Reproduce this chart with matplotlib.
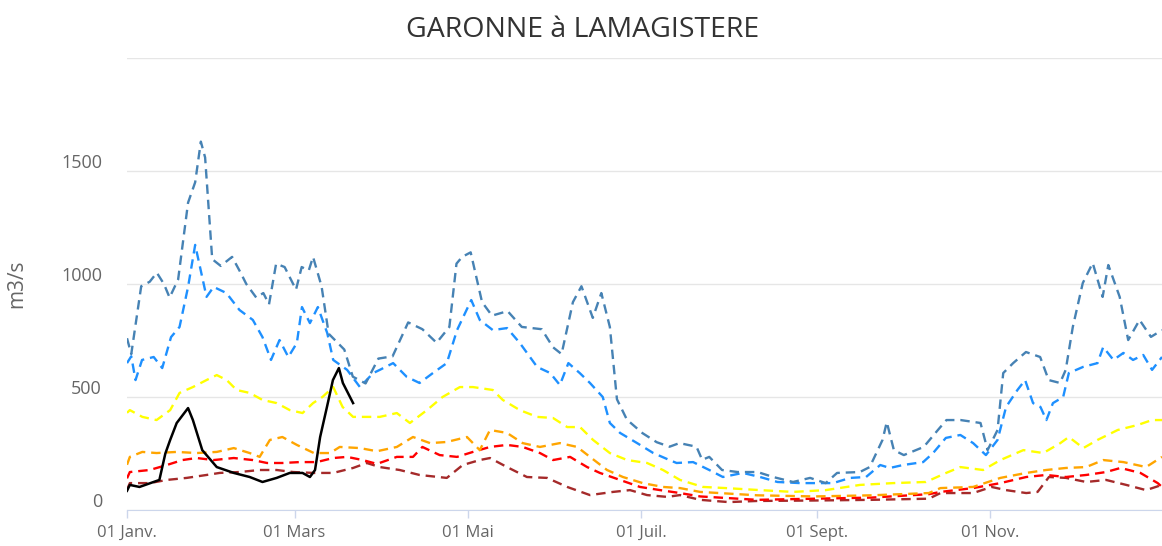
import matplotlib
matplotlib.use("Agg")
import matplotlib.pyplot as plt
from matplotlib.transforms import ScaledTranslation

# jours depuis le 01 janvier, debits en m3/s
steel_days = [0, 1.5, 5, 8, 10.5, 13, 15, 18, 21.5, 24, 26, 27.5, 30, 33, 37, 40, 42, 45.5, 48, 50,
              52.5, 55.5, 59.5, 61.5, 64, 65.5, 68.5, 71, 76.5, 79.5, 84, 88.5, 93.5, 99, 104, 109,
              113.5, 116, 118, 121, 125, 128.5, 134, 139, 146, 150, 153, 157, 160, 164, 167, 170,
              172.5, 176, 181.5, 186.5, 191, 194.5, 200.5, 202.5, 205, 209.5, 215, 222, 227.5, 234.5,
              240.5, 246, 250, 258, 261.5, 266, 267.5, 270, 273.5, 280.5, 285.5, 288.5, 293.5, 300.5,
              303, 306.5, 308.5, 312, 316.5, 321.5, 324.5, 328.5, 330.5, 333, 336.5, 340, 343.5,
              345.5, 349.5, 352.5, 356.5, 360.5, 364.4]
steel_vals = [760, 690, 990, 1010, 1050, 1000, 940, 1020, 1360, 1450, 1630, 1560, 1110, 1080, 1120,
              1050, 1000, 940, 960, 910, 1090, 1075, 975, 1075, 1060, 1120, 990, 780, 710, 590, 560,
              670, 680, 830, 800, 740, 810, 1090, 1120, 1140, 920, 860, 880, 810, 800, 720, 690, 920,
              990, 850, 960, 810, 490, 400, 340, 300, 280, 296, 280, 222, 235, 177, 168, 168, 146,
              124, 142, 119, 164, 168, 190, 310, 389, 265, 243, 279, 354, 398, 398, 385, 265, 354,
              606, 650, 699, 677, 575, 562, 620, 810, 1004, 1093, 943, 1084, 943, 752, 841, 766, 796]

dodger_days = [0, 1.5, 3, 5.3, 9.4, 12.4, 15.5, 18.5, 21.5, 24, 28, 30.5, 35, 39.6, 44.3, 47.7, 50.7,
               53.7, 56.8, 59.8, 61.6, 64.4, 67.2, 70.5, 72.6, 77.5, 82, 86.7, 89, 93.7, 98.5, 103,
               107.7, 112.6, 116.2, 121.2, 124.2, 128.8, 133.8, 138.3, 144.4, 149, 152.4, 155.4,
               159.4, 163, 167.5, 170, 173.6, 179.6, 185.3, 191, 193.5, 199.3, 205, 209.8, 216.8,
               222.9, 229, 237, 244, 248.6, 254.6, 260.2, 265.2, 268.6, 273.2, 280.3, 283.8, 288.3,
               293.4, 297.9, 302.4, 306.5, 309.5, 313.5, 316.2, 319, 321.6, 323.7, 326, 329.6, 331.6,
               336.6, 341.7, 343.7, 347.3, 350.8, 354.2, 357.8, 360.9, 364.4]
dodger_vals = [650, 680, 575, 664, 677, 628, 765, 810, 987, 1173, 943, 987, 960, 885, 841, 765, 664,
               752, 677, 739, 898, 827, 898, 783, 664, 620, 544, 606, 620, 650, 589, 562, 606, 650,
               796, 929, 841, 796, 805, 739, 633, 606, 553, 650, 606, 562, 500, 385, 341, 296, 252,
               221, 208, 212, 177, 146, 164, 146, 124, 119, 119, 119, 142, 146, 199, 186, 199, 212,
               252, 319, 332, 296, 243, 310, 456, 531, 575, 473, 456, 398, 473, 500, 606, 633, 650,
               721, 664, 695, 664, 686, 620, 677]

yellow_days = [0, 1, 5.4, 10.4, 15.2, 18.5, 23.2, 28, 31.6, 35.1, 38.6, 43.2, 47.7, 52.7, 57.3, 61.8,
               65.5, 68.8, 72.6, 75.9, 79.6, 86.7, 89, 95, 99.6, 105.6, 111.1, 117.2, 121.8, 128.8,
               132.3, 138.3, 144.4, 150, 155, 159.5, 164.1, 170, 176.1, 183.1, 188.7, 194.7, 202.8,
               210.8, 222.9, 234.5, 246, 258.1, 269.7, 281.3, 288.4, 293.4, 301.4, 307.5, 315.6,
               322.6, 328.6, 331.6, 336.7, 341.7, 348.8, 355.8, 360.9, 364.4]
yellow_vals = [430, 442, 412, 398, 442, 518, 544, 575, 597, 575, 531, 518, 487, 473, 442, 429, 473,
               500, 544, 456, 412, 412, 412, 429, 385, 442, 500, 544, 544, 531, 487, 442, 412, 407,
               367, 367, 310, 252, 221, 208, 177, 133, 102, 97, 88, 80, 88, 111, 119, 124, 164, 190,
               177, 221, 265, 252, 296, 323, 274, 310, 354, 376, 398, 398]

orange_days = [0, 1, 5.4, 10.4, 17.5, 24.5, 31.6, 37.6, 43.2, 46.7, 50.3, 54.7, 59.8, 65.8, 71.5,
               74.9, 82, 88, 95, 100.7, 106.7, 112.6, 119.7, 124.2, 127.8, 133.8, 139.3, 145.4,
               152.4, 158.5, 163, 169, 174.6, 181.6, 188.7, 194.7, 201.8, 221.9, 242, 262.2, 282.3,
               286.4, 297.9, 307.5, 316.6, 323.6, 330.6, 337.7, 343.7, 350.8, 358.8, 364.4]
orange_vals = [200, 235, 257, 252, 257, 252, 257, 274, 252, 235, 310, 323, 288, 252, 252, 279, 274,
               260, 279, 323, 296, 301, 323, 265, 354, 341, 296, 279, 296, 279, 235, 177, 146, 119,
               102, 97, 80, 65, 60, 65, 75, 97, 102, 142, 164, 177, 186, 190, 221, 212, 190, 235]

red_days = [0, 1, 8, 14, 19.5, 24.5, 30.5, 37.6, 44.3, 49.3, 54.7, 60.8, 66.8, 72.6, 77.5, 83, 88,
            95, 100.7, 104, 110.1, 116.2, 121.8, 127.8, 133.8, 139.3, 145.4, 150, 156, 162, 166.5,
            173.6, 180.6, 187.7, 194.7, 201.8, 221.9, 242, 262.2, 282.3, 286.4, 297.9, 307.5, 316.6,
            323.6, 330.6, 337.7, 344.7, 349.8, 356.8, 362.9, 364.4]
red_vals = [140, 168, 177, 199, 221, 230, 221, 230, 221, 208, 208, 212, 212, 230, 235, 221, 204, 235,
            235, 279, 243, 235, 257, 279, 288, 279, 252, 221, 235, 190, 164, 133, 102, 88, 75, 60,
            45, 50, 55, 70, 80, 97, 119, 146, 155, 146, 155, 168, 186, 164, 119, 102]

darkred_days = [0, 1, 8, 14, 21, 28, 32.6, 39.6, 46.7, 52.7, 58.5, 65.8, 72.6, 79.6, 84.4, 89, 96,
                103, 112.6, 118.2, 124.2, 127.8, 133.8, 140.8, 147.9, 155, 163, 171.1, 177.1, 183.1,
                190.2, 194.7, 201.8, 211.8, 221.9, 242, 262.2, 282.3, 286.4, 297.9, 304.4, 309.5,
                316.6, 320.6, 324.6, 330.6, 337.7, 344.7, 351.8, 358.8, 364.4]
darkred_vals = [90, 119, 119, 133, 142, 155, 164, 168, 177, 177, 168, 164, 164, 186, 208, 190, 177,
                155, 142, 199, 221, 230, 190, 146, 142, 102, 66, 80, 88, 66, 58, 66, 45, 35, 40, 42,
                45, 50, 75, 75, 102, 88, 75, 80, 146, 142, 124, 133, 111, 88, 111]

black_days = [0, 1, 4.4, 11.4, 13.5, 15.2, 17.5, 21.5, 23.2, 26.5, 31.6, 37.6, 43.2, 47.7, 52.7,
              57.3, 61.8, 64.4, 66.2, 68, 70.4, 72.5, 74.6, 76, 79.6]
black_vals = [85, 111, 102, 133, 250, 310, 385, 451, 398, 265, 190, 164, 146, 124, 142, 164, 164,
              146, 177, 323, 456, 575, 628, 562, 473]

month_ticks = [0, 59, 120, 181, 243, 304]
month_labels = ["01 Janv.", "01 Mars", "01 Mai", "01 Juil.", "01 Sept.", "01 Nov."]

plt.rcParams["font.family"] = ["Open Sans", "DejaVu Sans"]

fig = plt.figure(figsize=(11.62, 5.46), dpi=100)
ax = fig.add_axes([127 / 1162, 1 - 510 / 546, 1 - 127 / 1162, (510 - 58) / 546])

dash = (4, 2.5)
lw = 1.7
ax.plot(darkred_days, darkred_vals, color="#A52A2A", lw=lw, dashes=dash)
ax.plot(red_days, red_vals, color="#FF0000", lw=lw, dashes=dash)
ax.plot(orange_days, orange_vals, color="#FFA500", lw=lw, dashes=dash)
ax.plot(yellow_days, yellow_vals, color="#FFFF00", lw=lw, dashes=dash)
ax.plot(dodger_days, dodger_vals, color="#1E90FF", lw=lw, dashes=dash)
ax.plot(steel_days, steel_vals, color="#4682B4", lw=lw, dashes=dash)
ax.plot(black_days, black_vals, color="black", lw=1.8, zorder=5)

ax.set_xlim(0, 364.4)
ax.set_ylim(0, 2000)
ax.set_yticks([0, 500, 1000, 1500, 2000])
ax.set_yticklabels(["0", "500", "1000", "1500", ""])
ax.set_xticks(month_ticks)
ax.set_xticklabels(month_labels)

ax.grid(axis="y", color="#e6e6e6", lw=1)
ax.set_axisbelow(True)
for s in ["top", "right", "left"]:
    ax.spines[s].set_visible(False)
ax.spines["bottom"].set_color("#ccd6eb")
ax.tick_params(axis="x", colors="#ccd6eb", length=6, width=1, labelcolor="#666666",
               labelsize=12, pad=5)
ax.tick_params(axis="y", length=0, labelcolor="#666666", labelsize=13, pad=18)

off = ScaledTranslation(0, 0.1, fig.dpi_scale_trans)
for lab in ax.get_yticklabels():
    lab.set_transform(lab.get_transform() + off)

ax.set_ylabel("m3/s", color="#666666", fontsize=15)
ax.yaxis.set_label_coords(-0.096, 0.5)

fig.text(583 / 1162, 1 - 37 / 546, "GARONNE à LAMAGISTERE", ha="center", va="baseline",
         fontsize=20.5, color="#333333")

fig.savefig("out.png", dpi=100)
